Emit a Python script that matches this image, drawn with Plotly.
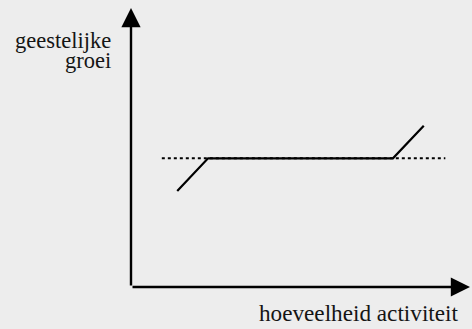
import plotly.graph_objects as go

# activity (x) vs spiritual growth (y), arbitrary units
solid_x = [1.5, 2.5, 8.5, 9.5]
solid_y = [3.1, 4.15, 4.15, 5.2]
dotted_x = [1.0, 10.2]
dotted_y = [4.15, 4.15]

x_max = 11
y_max = 9
y_label = ["geestelijke", "groei"]
x_label = "hoeveelheid activiteit"

bg = "#EDEDED"
serif = "Liberation Serif"

fig = go.Figure()

fig.add_trace(go.Scatter(
    x=dotted_x, y=dotted_y, mode="lines",
    line=dict(color="black", width=2, dash="dot"), hoverinfo="skip"
))
fig.add_trace(go.Scatter(
    x=solid_x, y=solid_y, mode="lines",
    line=dict(color="black", width=2.2), hoverinfo="skip"
))

# axes drawn as arrows
for (x0, y0, x1, y1) in [(0, 0, 0, y_max), (0, 0, x_max, 0)]:
    fig.add_annotation(
        x=x1, y=y1, ax=x0, ay=y0, xref="x", yref="y", axref="x", ayref="y",
        text="", showarrow=True, arrowhead=2, arrowsize=1.6, arrowwidth=2.4,
        arrowcolor="black"
    )

# y label, two lines with tight leading
for line, ypos in zip(y_label, [7.96, 7.32]):
    fig.add_annotation(
        x=0, y=ypos, xref="x", yref="y", text=line, showarrow=False,
        xanchor="right", yanchor="middle", xshift=-18,
        font=dict(family=serif, size=22.5, color="#151515")
    )
# outside the axis range, so anchor it to paper y
fig.add_annotation(
    x=10.68, y=-0.093, xref="x", yref="paper", text=x_label, showarrow=False,
    xanchor="right", yanchor="middle",
    font=dict(family=serif, size=23.2, color="#151515")
)

fig.update_layout(
    width=472, height=329, showlegend=False,
    font=dict(family=serif),
    plot_bgcolor=bg, paper_bgcolor=bg,
    margin=dict(l=131, r=2, t=8, b=42),
    xaxis=dict(range=[0, x_max], visible=False, fixedrange=True),
    yaxis=dict(range=[0, y_max], visible=False, fixedrange=True),
)

fig.write_html("out.html", config={"displayModeBar": False},
               post_script="document.body.style.margin='0';")
